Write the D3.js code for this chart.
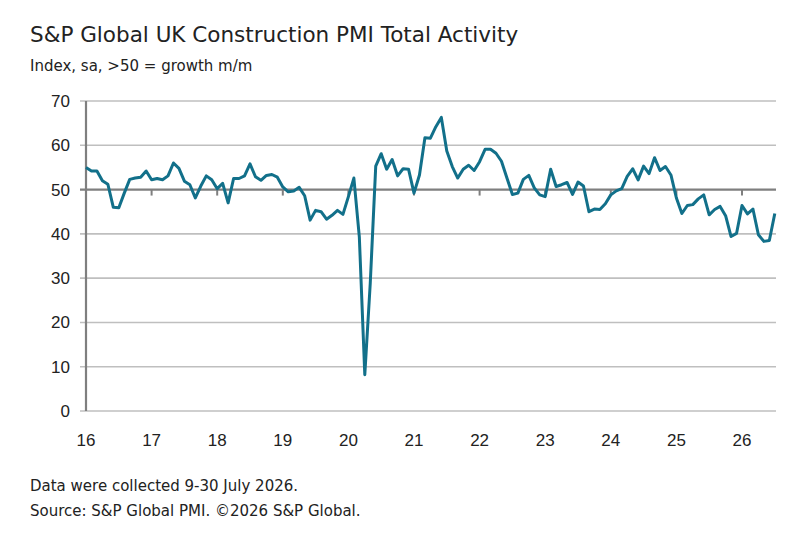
<!DOCTYPE html>
<html><head><meta charset="utf-8">
<script src="https://cdn.jsdelivr.net/npm/d3@7"></script>
<style>body{margin:0;background:#fff}svg{font-family:"Liberation Sans",Arial,sans-serif}.dj{font-family:"DejaVu Sans",sans-serif}</style>
</head><body><svg id="c" width="803" height="533"></svg>
<script>
const startYear = 2016;
const pmi = [
55.0,54.2,54.2,52.0,51.2,46.0,45.9,49.2,52.3,52.6,52.8,54.2,
52.2,52.5,52.2,53.1,56.0,54.8,51.9,51.1,48.1,50.8,53.1,52.2,
50.2,51.4,47.0,52.5,52.5,53.1,55.8,52.9,52.1,53.2,53.4,52.8,
50.6,49.5,49.7,50.5,48.6,43.1,45.3,45.0,43.3,44.2,45.3,44.4,
48.4,52.6,39.3,8.2,28.9,55.3,58.1,54.6,56.8,53.1,54.7,54.6,
49.2,53.3,61.7,61.6,64.2,66.3,58.7,55.2,52.6,54.6,55.5,54.3,
56.3,59.1,59.1,58.2,56.4,52.6,48.9,49.2,52.3,53.2,50.4,48.8,
48.4,54.6,50.7,51.1,51.6,48.9,51.7,50.8,45.0,45.6,45.5,46.8,
48.8,49.7,50.2,53.0,54.7,52.2,55.3,53.6,57.2,54.3,55.2,53.3,
48.1,44.6,46.4,46.6,47.9,48.8,44.3,45.5,46.2,44.1,39.4,40.1,
46.4,44.5,45.6,39.8,38.3,38.5,44.6];
const xTicks = ["16","17","18","19","20","21","22","23","24","25","26"];
const yTicks = [0,10,20,30,40,50,60,70];

const svg = d3.select("#c");
const x = d3.scaleLinear().domain([0,120]).range([86,742]);
const y = d3.scaleLinear().domain([0,70]).range([411,101]);

svg.append("text").attr("class","dj").attr("x",30).attr("y",42).attr("font-size",21.5).attr("fill","#222").text("S&P Global UK Construction PMI Total Activity");
svg.append("text").attr("class","dj").attr("x",30).attr("y",71).attr("font-size",15).attr("fill","#222").text("Index, sa, >50 = growth m/m");

yTicks.forEach(v=>{
  svg.append("line").attr("x1",80).attr("x2",776).attr("y1",y(v)).attr("y2",y(v))
    .attr("stroke", v===50?"#7f7f7f":"#bfbfbf").attr("stroke-width",v===50?2.2:1.6);
  svg.append("text").attr("x",70).attr("y",y(v)+6).attr("text-anchor","end").attr("font-size",17).attr("fill","#222").text(v);
});
svg.append("line").attr("x1",86).attr("x2",86).attr("y1",y(70)).attr("y2",y(0)).attr("stroke","#7f7f7f").attr("stroke-width",2.2);
xTicks.forEach((t,i)=>{
  const xx = x(i*12);
  if(i>0) svg.append("line").attr("x1",xx).attr("x2",xx).attr("y1",y(50)).attr("y2",y(50)+6).attr("stroke","#7f7f7f").attr("stroke-width",2);
  svg.append("text").attr("x",xx).attr("y",446).attr("text-anchor","middle").attr("font-size",17).attr("fill","#222").text(t);
});
svg.append("path").datum(pmi).attr("fill","none").attr("stroke","#12708a").attr("stroke-width",3)
  .attr("stroke-linejoin","round")
  .attr("d", d3.line().x((d,i)=>x(i)).y(d=>y(d)));

svg.append("text").attr("class","dj").attr("x",30).attr("y",491).attr("font-size",15).attr("fill","#222").text("Data were collected 9-30 July 2026.");
svg.append("text").attr("class","dj").attr("x",30).attr("y",516).attr("font-size",15).attr("fill","#222").text("Source: S&P Global PMI. ©2026 S&P Global.");
</script></body></html>
